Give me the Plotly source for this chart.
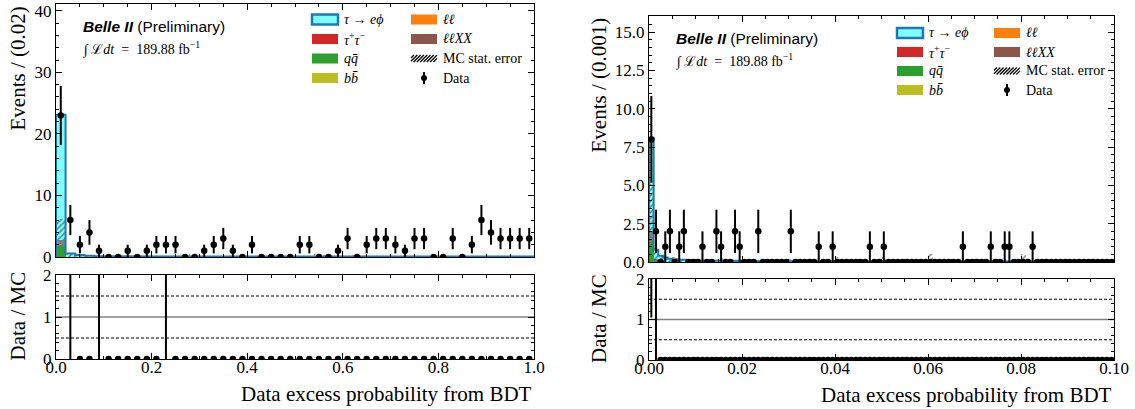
import numpy as np
import plotly.graph_objects as go

W, H = 1135, 409

# ---------------- Left panel: bin width 0.02, 50 bins on [0, 1] ----------------
left_bin_width = 0.02
data_left = [23, 6, 2, 4, 1, 0, 0, 1, 0, 1,
             2, 2, 2, 0, 0, 1, 2, 3, 1, 0,
             2, 0, 0, 0, 0, 2, 2, 0, 0, 1,
             3, 0, 2, 3, 3, 2, 1, 3, 3, 0,
             0, 3, 0, 2, 6, 4, 3, 3, 3, 3]
sig_left = [20.3, 0.50, 0.30, 0.18, 0.14, 0.12, 0.12, 0.11, 0.11, 0.10,
            0.10, 0.10, 0.10, 0.09, 0.09, 0.09, 0.09, 0.09, 0.09, 0.08,
            0.08, 0.08, 0.08, 0.08, 0.08, 0.08, 0.08, 0.08, 0.08, 0.08,
            0.08, 0.08, 0.08, 0.08, 0.08, 0.08, 0.08, 0.08, 0.08, 0.08,
            0.08, 0.08, 0.08, 0.08, 0.08, 0.08, 0.08, 0.08, 0.08, 0.08]
qq_left = [1.8, 0.02, 0.01, 0, 0, 0, 0, 0, 0, 0,
           0, 0, 0, 0, 0, 0, 0, 0, 0, 0,
           0, 0, 0, 0, 0, 0, 0, 0, 0, 0,
           0, 0, 0, 0, 0, 0, 0, 0, 0, 0,
           0, 0, 0, 0, 0, 0, 0, 0, 0, 0]
other_left = [1.0, 0.03, 0.02, 0.01, 0, 0, 0, 0, 0, 0,
              0, 0, 0, 0, 0, 0, 0, 0, 0, 0,
              0, 0, 0, 0, 0, 0, 0, 0, 0, 0,
              0, 0, 0, 0, 0, 0, 0, 0, 0, 0,
              0, 0, 0, 0, 0, 0, 0, 0, 0, 0]
hatch_lo_left = [2.8, 0.05, 0.03, 0, 0, 0, 0, 0, 0, 0,
                 0, 0, 0, 0, 0, 0, 0, 0, 0, 0,
                 0, 0, 0, 0, 0, 0, 0, 0, 0, 0,
                 0, 0, 0, 0, 0, 0, 0, 0, 0, 0,
                 0, 0, 0, 0, 0, 0, 0, 0, 0, 0]
hatch_hi_left = [6.1, 0.45, 0.30, 0.15, 0.10, 0.10, 0.10, 0.10, 0.10, 0.10,
                 0.10, 0.10, 0.10, 0.50, 0.35, 0.10, 0.10, 0.10, 0.10, 0.10,
                 0.10, 0.10, 0.10, 0.10, 0.10, 0.10, 0.10, 0.45, 0.25, 0.10,
                 0.10, 0.30, 0.10, 0.10, 0.10, 0.10, 0.10, 0.10, 0.10, 0.10,
                 0.10, 0.10, 0.10, 0.10, 0.10, 0.10, 0.10, 0.10, 0.10, 0.10]
ratio_left = [None, 20, 0, 0, 20, 0, 0, 0, 0, 0,
              0, 20, 0, 0, 0, 0, 0, 0, 0, 0,
              0, 0, 0, 0, 0, 0, 0, 0, 0, 0,
              0, 0, 0, 0, 0, 0, 0, 0, 0, 0,
              0, 0, 0, 0, 0, 0, 0, 0, 0, 0]
ratio_err_left = [0, 25, 0, 0, 25, 0, 0, 0, 0, 0,
                  0, 25, 0, 0, 0, 0, 0, 0, 0, 0,
                  0, 0, 0, 0, 0, 0, 0, 0, 0, 0,
                  0, 0, 0, 0, 0, 0, 0, 0, 0, 0,
                  0, 0, 0, 0, 0, 0, 0, 0, 0, 0]

# ---------------- Right panel: bin width 0.001, 100 bins on [0, 0.1] ----------------
right_bin_width = 0.001
data_right = [8, 2, 0, 1, 2, 0, 1, 2, 0, 0,
              0, 1, 0, 0, 2, 1, 0, 0, 2, 1,
              0, 0, 0, 2, 0, 0, 0, 0, 0, 0,
              2, 0, 0, 0, 0, 0, 1, 0, 0, 1,
              0, 0, 0, 0, 0, 0, 0, 1, 0, 0,
              1, 0, 0, 0, 0, 0, 0, 0, 0, 0,
              0, 0, 0, 0, 0, 0, 0, 1, 0, 0,
              0, 0, 0, 1, 0, 0, 1, 1, 0, 0,
              0, 0, 1, 0, 0, 0, 0, 0, 0, 0,
              0, 0, 0, 0, 0, 0, 0, 0, 0, 0]
sig_right = [6.1, 0.60, 0.35, 0.30, 0.22, 0.18, 0.15, 0.14, 0.12, 0.11,
             0.10, 0.10, 0.10, 0.09, 0.09, 0.09, 0.09, 0.08, 0.08, 0.08,
             0.08, 0.07, 0.07, 0.07, 0.05, 0.05, 0.05, 0.05, 0.05, 0.05,
             0.04, 0.04, 0.04, 0.04, 0.04, 0.04, 0.04, 0.04, 0.04, 0.04,
             0.04, 0.04, 0.04, 0.04, 0.04, 0.04, 0.04, 0.04, 0.04, 0.04,
             0.04, 0.04, 0.04, 0.04, 0.04, 0.04, 0.04, 0.04, 0.04, 0.04,
             0.04, 0.04, 0.04, 0.04, 0.04, 0.04, 0.04, 0.04, 0.04, 0.04,
             0.04, 0.04, 0.04, 0.04, 0.04, 0.04, 0.04, 0.04, 0.04, 0.04,
             0.04, 0.04, 0.04, 0.04, 0.04, 0.04, 0.04, 0.04, 0.04, 0.04,
             0.04, 0.04, 0.04, 0.04, 0.04, 0.04, 0.04, 0.04, 0.04, 0.04]
qq_right = [1.3, 0.05, 0, 0, 0, 0, 0, 0, 0, 0,
            0, 0, 0, 0, 0, 0, 0, 0, 0, 0,
            0, 0, 0, 0, 0, 0, 0, 0, 0, 0,
            0, 0, 0, 0, 0, 0, 0, 0, 0, 0,
            0, 0, 0, 0, 0, 0, 0, 0, 0, 0,
            0, 0, 0, 0, 0, 0, 0, 0, 0, 0,
            0, 0, 0, 0, 0, 0, 0, 0, 0, 0,
            0, 0, 0, 0, 0, 0, 0, 0, 0, 0,
            0, 0, 0, 0, 0, 0, 0, 0, 0, 0,
            0, 0, 0, 0, 0, 0, 0, 0, 0, 0]
other_right = [0.7, 0.15, 0.05, 0, 0, 0, 0, 0, 0, 0,
               0, 0, 0, 0, 0, 0, 0, 0, 0, 0,
               0, 0, 0, 0, 0, 0, 0, 0, 0, 0,
               0, 0, 0, 0, 0, 0, 0, 0, 0, 0,
               0, 0, 0, 0, 0, 0, 0, 0, 0, 0,
               0, 0, 0, 0, 0, 0, 0, 0, 0, 0,
               0, 0, 0, 0, 0, 0, 0, 0, 0, 0,
               0, 0, 0, 0, 0, 0, 0, 0, 0, 0,
               0, 0, 0, 0, 0, 0, 0, 0, 0, 0,
               0, 0, 0, 0, 0, 0, 0, 0, 0, 0]
hatch_lo_right = [2.0, 0.0, 0, 0, 0, 0, 0, 0, 0, 0,
                  0, 0, 0, 0, 0, 0, 0, 0, 0, 0,
                  0, 0, 0, 0, 0, 0, 0, 0, 0, 0,
                  0, 0, 0, 0, 0, 0, 0, 0, 0, 0,
                  0, 0, 0, 0, 0, 0, 0, 0, 0, 0,
                  0, 0, 0, 0, 0, 0, 0, 0, 0, 0,
                  0, 0, 0, 0, 0, 0, 0, 0, 0, 0,
                  0, 0, 0, 0, 0, 0, 0, 0, 0, 0,
                  0, 0, 0, 0, 0, 0, 0, 0, 0, 0,
                  0, 0, 0, 0, 0, 0, 0, 0, 0, 0]
hatch_hi_right = [5.1, 0.90, 0.35, 0.20, 0.15, 0.35, 0.10, 0.10, 0.08, 0.08,
                  0.08, 0.08, 0.08, 0.08, 0.08, 0.25, 0.08, 0.08, 0.08, 0.08,
                  0.08, 0.08, 0.08, 0.08, 0.08, 0.08, 0.08, 0.08, 0.08, 0.08,
                  0.20, 0.08, 0.08, 0.08, 0.08, 0.08, 0.08, 0.08, 0.08, 0.08,
                  0.30, 0.08, 0.08, 0.08, 0.08, 0.08, 0.08, 0.08, 0.08, 0.08,
                  0.35, 0.08, 0.08, 0.08, 0.08, 0.08, 0.08, 0.08, 0.08, 0.08,
                  0.50, 0.08, 0.08, 0.08, 0.08, 0.08, 0.08, 0.08, 0.08, 0.08,
                  0.08, 0.08, 0.08, 0.08, 0.08, 0.08, 0.08, 0.08, 0.08, 0.08,
                  0.50, 0.08, 0.08, 0.08, 0.08, 0.08, 0.08, 0.08, 0.08, 0.08,
                  0.08, 0.08, 0.08, 0.08, 0.08, 0.08, 0.08, 0.08, 0.08, 0.08]
ratio_right = [3.0, 20, 0, 0, 0, 0, 0, 0, 0, 0,
               0, 0, 0, 0, 0, 0, 0, 0, 0, 0,
               0, 0, 0, 0, 0, 0, 0, 0, 0, 0,
               0, 0, 0, 0, 0, 0, 0, 0, 0, 0,
               0, 0, 0, 0, 0, 0, 0, 0, 0, 0,
               0, 0, 0, 0, 0, 0, 0, 0, 0, 0,
               0, 0, 0, 0, 0, 0, 0, 0, 0, 0,
               0, 0, 0, 0, 0, 0, 0, 0, 0, 0,
               0, 0, 0, 0, 0, 0, 0, 0, 0, 0,
               0, 0, 0, 0, 0, 0, 0, 0, 0, 0]
ratio_err_right = [1.95, 25, 0, 0, 0, 0, 0, 0, 0, 0,
                   0, 0, 0, 0, 0, 0, 0, 0, 0, 0,
                   0, 0, 0, 0, 0, 0, 0, 0, 0, 0,
                   0, 0, 0, 0, 0, 0, 0, 0, 0, 0,
                   0, 0, 0, 0, 0, 0, 0, 0, 0, 0,
                   0, 0, 0, 0, 0, 0, 0, 0, 0, 0,
                   0, 0, 0, 0, 0, 0, 0, 0, 0, 0,
                   0, 0, 0, 0, 0, 0, 0, 0, 0, 0,
                   0, 0, 0, 0, 0, 0, 0, 0, 0, 0,
                   0, 0, 0, 0, 0, 0, 0, 0, 0, 0]

# legend labels
legend_col1 = ["<i>τ</i> → <i>eϕ</i>", "<i>τ</i><sup>+</sup><i>τ</i><sup>−</sup>",
               "<i>q</i><i>q̄</i>", "<i>b</i><i>b̄</i>"]
legend_col2 = ["<i>ℓℓ</i>", "<i>ℓℓXX</i>", "MC stat. error", "Data"]
lumi_text = "∫ ℒ<i>dt</i>  =  189.88 fb<sup>−1</sup>"

# colours
C_SIG_FILL = "#7fffff"
C_SIG_LINE = "#1f77b4"
C_TT = "#d62728"
C_QQ = "#2ca02c"
C_BB = "#bcbd22"
C_LL = "#ff7f0e"
C_LLXX = "#8c564b"
C_OTHER = "#7f7f7f"

SERIF = "Liberation Serif"
SANS = "Liberation Sans"


def PX(x):
    return x / W


def PY(y):
    return 1 - y / H


fig = go.Figure()


def add_panel(xa, ya, xa_r, ya_r, bw, data, sig, qq, other, hlo, hhi, ratio, rerr):
    n = len(data)
    edges = np.arange(n + 1) * bw
    centers = (edges[:-1] + edges[1:]) / 2
    qq = np.array(qq, float)
    other = np.array(other, float)
    sig = np.array(sig, float)
    bkg = qq + other
    total = bkg + sig
    common = dict(width=bw, xaxis=xa, yaxis=ya, showlegend=False, hoverinfo="skip")
    fig.add_trace(go.Bar(x=centers, y=qq, base=0, marker=dict(color=C_QQ, line=dict(width=0)), **common))
    fig.add_trace(go.Bar(x=centers, y=other, base=qq, marker=dict(color=C_OTHER, line=dict(width=0)), **common))
    fig.add_trace(go.Bar(x=centers, y=sig, base=bkg, marker=dict(color=C_SIG_FILL, line=dict(width=0)), **common))
    hlo = np.array(hlo, float)
    hhi = np.array(hhi, float)
    fig.add_trace(go.Bar(x=centers, y=hhi - hlo, base=hlo,
                         marker=dict(color="rgba(0,0,0,0)", line=dict(width=0),
                                     pattern=dict(shape="/", fgcolor="black", bgcolor="rgba(0,0,0,0)",
                                                  size=4, solidity=0.35, fillmode="overlay")),
                         **common))
    # step outline of the stacked total
    xs, ys = [0.0], [0.0]
    for i in range(n):
        xs += [edges[i], edges[i + 1]]
        ys += [total[i], total[i]]
    xs.append(edges[-1])
    ys.append(0.0)
    fig.add_trace(go.Scatter(x=xs, y=ys, mode="lines", line=dict(color=C_SIG_LINE, width=2),
                             xaxis=xa, yaxis=ya, showlegend=False, hoverinfo="skip"))
    # data
    d = np.array(data, float)
    fig.add_trace(go.Scatter(x=centers, y=d, mode="markers",
                             marker=dict(color="black", size=6.5),
                             error_y=dict(type="data", array=np.sqrt(d), thickness=2, width=0, color="black"),
                             xaxis=xa, yaxis=ya, showlegend=False, hoverinfo="skip", cliponaxis=True))
    # ratio
    fig.add_trace(go.Scatter(x=centers, y=ratio, mode="markers",
                             marker=dict(color="black", size=6.5),
                             error_y=dict(type="data", array=rerr, thickness=2, width=0, color="black"),
                             xaxis=xa_r, yaxis=ya_r, showlegend=False, hoverinfo="skip", cliponaxis=True))


add_panel("x", "y", "x2", "y2", left_bin_width, data_left, sig_left, qq_left, other_left,
          hatch_lo_left, hatch_hi_left, ratio_left, ratio_err_left)
add_panel("x3", "y3", "x4", "y4", right_bin_width, data_right, sig_right, qq_right, other_right,
          hatch_lo_right, hatch_hi_right, ratio_right, ratio_err_right)

tickfont = dict(family=SERIF, size=17, color="black")


def axis(domain, anchor, rng, dtick, minor_dtick, fmt, labels=True, standoff=0):
    return dict(domain=domain, anchor=anchor, range=rng, dtick=dtick, tick0=0,
                tickformat=fmt, showticklabels=labels, ticks="inside", ticklen=6,
                tickwidth=1, tickcolor="black", mirror="allticks", showline=True,
                linecolor="black", linewidth=1.3, showgrid=False, zeroline=False,
                tickfont=tickfont, automargin=False, ticklabelstandoff=standoff,
                minor=dict(ticks="inside", ticklen=3, dtick=minor_dtick, tick0=0,
                           tickcolor="black", tickwidth=1, showgrid=False))


LX = [PX(56), PX(534)]
RX = [PX(649), PX(1114)]
fig.update_layout(
    width=W, height=H, margin=dict(l=0, r=0, t=0, b=0, pad=0, autoexpand=False),
    paper_bgcolor="white", plot_bgcolor="white",
    font=dict(family=SERIF, color="black"),
    barmode="overlay", bargap=0, showlegend=False,
    xaxis=axis(LX, "y", [0, 1], 0.2, 0.05, ".1f", labels=False),
    yaxis=axis([PY(257), PY(4)], "x", [0, 41.1], 10, 2, "d"),
    xaxis2=axis(LX, "y2", [0, 1], 0.2, 0.05, ".1f", standoff=-8),
    yaxis2=axis([PY(359), PY(275)], "x2", [0, 2], 1, 0.2, "d"),
    xaxis3=axis(RX, "y3", [0, 0.1], 0.02, 0.005, ".2f", labels=False),
    yaxis3=axis([PY(262), PY(16)], "x3", [0, 16.05], 2.5, 0.5, ".1f"),
    xaxis4=axis(RX, "y4", [0, 0.1], 0.02, 0.005, ".2f", standoff=-8),
    yaxis4=axis([PY(360), PY(279)], "x4", [0, 2], 1, 0.2, "d"),
)

shapes = []
annotations = []

# ratio reference lines
for xr, yr in (("x2", "y2"), ("x4", "y4")):
    shapes.append(dict(type="line", xref=f"{xr} domain", yref=yr, x0=0, x1=1, y0=1, y1=1,
                       line=dict(color="#808080", width=1.5), layer="below"))
    for yv in (0.5, 1.5):
        shapes.append(dict(type="line", xref=f"{xr} domain", yref=yr, x0=0, x1=1, y0=yv, y1=yv,
                           line=dict(color="black", width=1, dash="3px,2px"), layer="below"))


def text(x, y, s, size, family=SERIF, xanchor="left", yanchor="middle", angle=0):
    annotations.append(dict(xref="paper", yref="paper", x=PX(x), y=PY(y), text=s, showarrow=False,
                            xanchor=xanchor, yanchor=yanchor, textangle=angle,
                            font=dict(family=family, size=size, color="black")))


def rect(x0, x1, yc, h, fill, line_color=None, lw=0):
    shapes.append(dict(type="rect", xref="paper", yref="paper", x0=PX(x0), x1=PX(x1),
                       y0=PY(yc - h / 2), y1=PY(yc + h / 2), fillcolor=fill,
                       line=dict(color=line_color or fill, width=lw)))


def legend(c1x, c2x, rows):
    bw_, bh = 26, 10
    # column 1
    rect(c1x, c1x + bw_, rows[0], bh, C_SIG_FILL, C_SIG_LINE, 2.5)
    rect(c1x, c1x + bw_, rows[1], bh, C_TT)
    rect(c1x, c1x + bw_, rows[2], bh, C_QQ)
    rect(c1x, c1x + bw_, rows[3], bh, C_BB)
    for r, s in zip(rows, legend_col1):
        text(c1x + bw_ + 4, r, s, 14)
    # column 2
    rect(c2x, c2x + bw_, rows[0], bh, C_LL)
    rect(c2x, c2x + bw_, rows[1], bh, C_LLXX)
    # hatch sample
    y0 = rows[2] + 3.5
    for k in range(9):
        xa_ = c2x - 4 + k * 3.3
        xb_ = xa_ + 7
        xa_c, xb_c = max(xa_, c2x), min(xb_, c2x + bw_)
        ya_ = y0 - (xa_c - xa_)
        yb_ = y0 - (xb_c - xa_)
        if xb_c > xa_c:
            shapes.append(dict(type="line", xref="paper", yref="paper",
                               x0=PX(xa_c), x1=PX(xb_c), y0=PY(ya_), y1=PY(yb_),
                               line=dict(color="black", width=1.3)))
    # data sample
    cx = c2x + bw_ / 2
    shapes.append(dict(type="line", xref="paper", yref="paper", x0=PX(cx), x1=PX(cx),
                       y0=PY(rows[3] - 6), y1=PY(rows[3] + 6), line=dict(color="black", width=2)))
    shapes.append(dict(type="circle", xref="paper", yref="paper", x0=PX(cx - 3), x1=PX(cx + 3),
                       y0=PY(rows[3] - 3), y1=PY(rows[3] + 3), fillcolor="black",
                       line=dict(color="black", width=0)))
    for r, s in zip(rows, legend_col2):
        text(c2x + bw_ + 4, r, s, 14)


legend(312, 411, [19.5, 39, 58.5, 78])
legend(897, 994, [33, 52, 71, 90])

# experiment labels
belle = "<b><i>Belle II</i></b> (Preliminary)"
text(81, 26.5, belle, 15.5, family=SANS)
text(81, 49, lumi_text, 14)
text(674, 38.5, belle, 15.5, family=SANS)
text(674, 61, lumi_text, 14)

# axis titles
text(17.5, 5, "Events / (0.02)", 21, xanchor="center", yanchor="top", angle=-90)
text(17.5, 316, "Data / MC", 21, xanchor="center", yanchor="middle", angle=-90)
text(534, 394, "Data excess probability from BDT", 21, xanchor="right", yanchor="middle")
text(599, 16, "Events / (0.001)", 21, xanchor="center", yanchor="top", angle=-90)
text(599, 319, "Data / MC", 21, xanchor="center", yanchor="middle", angle=-90)
text(1114, 395, "Data excess probability from BDT", 21, xanchor="right", yanchor="middle")

fig.update_layout(shapes=shapes, annotations=annotations)

fig.write_html("out.html", config={"displayModeBar": False},
               post_script="document.body.style.margin='0';document.body.style.overflow='hidden';")
